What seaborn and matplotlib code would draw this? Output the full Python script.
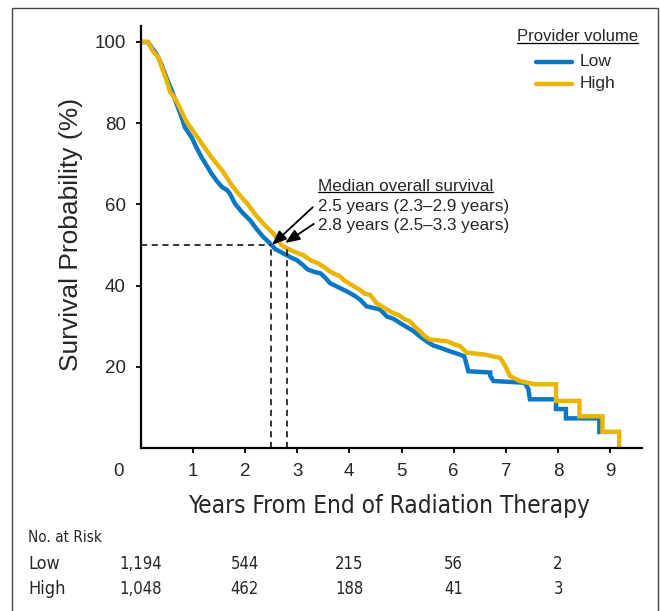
import numpy as np
import pandas as pd
import seaborn as sns
import matplotlib
matplotlib.use("Agg")
import matplotlib.pyplot as plt
from matplotlib import font_manager
from matplotlib.lines import Line2D
from matplotlib.patches import Rectangle
from matplotlib.transforms import blended_transform_factory

# ---------------- data (curve vertices) ----------------
low_time = [0.00, 0.14, 0.22, 0.31, 0.40, 0.47, 0.55, 0.60, 0.70, 0.79, 0.85, 0.98,
            1.08, 1.17, 1.27, 1.36, 1.46, 1.56, 1.66, 1.71, 1.81, 1.95, 2.10, 2.22,
            2.35, 2.45, 2.51, 2.58, 2.67, 2.80, 2.90, 2.99, 3.10, 3.20, 3.30, 3.45,
            3.55, 3.63, 3.82, 3.95, 4.10, 4.21, 4.33, 4.59, 4.72, 4.85, 4.97, 5.10,
            5.23, 5.35, 5.48, 5.60, 5.74, 5.93, 6.12, 6.20, 6.22, 6.28, 6.70, 6.70,
            6.76, 7.33, 7.36, 7.43, 7.46, 7.96, 7.96, 8.15, 8.15, 8.79, 8.79]
low_surv = [100, 100, 98.5, 97.0, 94.5, 92.1, 89.5, 88.0, 84.5, 81.4, 79.0, 76.5,
            73.8, 71.6, 69.5, 67.6, 65.8, 64.3, 63.5, 62.7, 60.2, 58.0, 56.1, 54.0,
            52.0, 50.8, 50.0, 49.0, 48.4, 47.5, 46.8, 46.3, 45.2, 44.0, 43.5, 43.0,
            41.8, 40.6, 39.4, 38.6, 37.5, 36.5, 34.9, 34.1, 32.4, 31.8, 30.8, 29.8,
            28.8, 27.5, 26.3, 25.3, 24.7, 23.8, 23.0, 22.6, 21.8, 18.9, 18.6, 17.8,
            16.5, 16.1, 16.1, 14.5, 12.0, 12.0, 9.6, 9.6, 7.3, 7.3, 3.4]

high_time = [0.00, 0.14, 0.25, 0.33, 0.41, 0.50, 0.57, 0.64, 0.72, 0.80, 0.89, 1.00,
             1.11, 1.24, 1.36, 1.46, 1.56, 1.66, 1.75, 1.90, 2.07, 2.20, 2.35, 2.45,
             2.54, 2.62, 2.70, 2.80, 2.95, 3.12, 3.25, 3.40, 3.50, 3.65, 3.82, 3.89,
             4.00, 4.14, 4.20, 4.30, 4.40, 4.52, 4.72, 4.85, 4.94, 5.05, 5.16, 5.25,
             5.35, 5.45, 5.55, 5.87, 6.02, 6.12, 6.25, 6.60, 6.89, 6.95, 7.02, 7.08,
             7.27, 7.55, 7.96, 7.96, 8.41, 8.41, 8.85, 8.85, 9.17, 9.17]
high_surv = [100, 100, 97.5, 96.5, 93.7, 90.5, 87.6, 86.5, 84.7, 82.5, 80.2, 78.2,
             76.2, 73.8, 71.6, 70.0, 68.4, 66.5, 64.7, 62.3, 59.8, 57.5, 55.3, 54.0,
             52.9, 51.5, 50.0, 49.2, 48.3, 47.5, 46.3, 45.5, 44.7, 43.3, 42.3, 41.4,
             40.5, 39.4, 39.0, 38.0, 37.7, 35.7, 34.1, 33.2, 32.8, 31.8, 31.2, 30.0,
             28.8, 27.5, 26.7, 26.3, 25.5, 25.1, 23.5, 23.0, 22.2, 21.0, 19.4, 17.7,
             16.5, 15.7, 15.7, 11.6, 11.6, 7.8, 7.8, 4.0, 4.0, 0.0]

groups = ["Low", "High"]
colors = ["#0a78c2", "#e9b500"]
medians = [2.5, 2.8]
median_texts = ["2.5 years (2.3\u20132.9 years)", "2.8 years (2.5\u20133.3 years)"]

y_ticks = [20, 40, 60, 80, 100]
x_ticks = [1, 2, 3, 4, 5, 6, 7, 8, 9]
risk_times = [0, 2, 4, 6, 8]
risk_low = ["1,194", "544", "215", "56", "2"]
risk_high = ["1,048", "462", "188", "41", "3"]

df = pd.concat([
    pd.DataFrame({"time": low_time, "surv": low_surv, "group": "Low"}),
    pd.DataFrame({"time": high_time, "surv": high_surv, "group": "High"}),
], ignore_index=True)

# ---------------- style ----------------
sns.set_style("ticks")
names = {f.name for f in font_manager.fontManager.ttflist}
BASE = "Liberation Sans" if "Liberation Sans" in names else "DejaVu Sans"
if "Liberation Sans Narrow" in names:
    NARROW, NSTRETCH = "Liberation Sans Narrow", "normal"
else:
    NARROW, NSTRETCH = "DejaVu Sans", "condensed"
plt.rcParams["font.family"] = [BASE, "DejaVu Sans"]

W, H = 660, 611
fig = plt.figure(figsize=(W / 100, H / 100), dpi=100)


def fx(x):
    return x / W


def fy(y):
    return 1 - y / H


ax_left, ax_right, ax_top, ax_bot = 140.5, 642, 25.5, 448
ax = fig.add_axes([fx(ax_left), fy(ax_bot), (ax_right - ax_left) / W, (ax_bot - ax_top) / H])

sns.lineplot(data=df, x="time", y="surv", hue="group", hue_order=groups,
             palette=dict(zip(groups, colors)), estimator=None, sort=False,
             linewidth=3.2, legend=False, ax=ax)
for ln in ax.get_lines():
    ln.set_solid_joinstyle("miter")
    ln.set_solid_capstyle("butt")

ax.set_xlim(0, (ax_right - ax_left) / 52.2)
ax.set_ylim(0, (ax_bot - ax_top) / 4.06)
ax.set_xticks(x_ticks)
ax.set_yticks(y_ticks)
ax.set_xticklabels([str(v) for v in x_ticks])
ax.set_yticklabels([str(v) for v in y_ticks])
for s in ["top", "right"]:
    ax.spines[s].set_visible(False)
for s in ["left", "bottom"]:
    ax.spines[s].set_linewidth(1.6)
    ax.spines[s].set_color("black")
ax.tick_params(axis="both", direction="out", length=3.6, width=1.3, labelsize=13.5,
               color="black")
ax.tick_params(axis="y", pad=7)
ax.tick_params(axis="x", pad=7)

ax.set_xlabel("Years From End of Radiation Therapy", fontsize=17.5, family=NARROW,
              fontstretch=NSTRETCH)
ax.xaxis.set_label_coords(0.4955, -0.138)
ax.xaxis.label.set_va("center")
ax.set_ylabel("Survival Probability (%)", fontsize=19)
ax.yaxis.set_label_coords(-0.1386, 0.505)
ax.yaxis.label.set_va("center")

# "0" at origin
fig.text(fx(119), fy(471), "0", fontsize=13.5, ha="center", va="center")

# median dashed lines
ax.plot([0, medians[0]], [50, 50], ls=(0, (4, 3)), color="black", lw=1.1)
for m in medians:
    ax.plot([m, m], [0, 50], ls=(0, (4, 3)), color="black", lw=1.1)

# annotation text
t_head = ax.text(3.40, 64.5, "Median overall survival", fontsize=12.3, ha="left",
                 va="center")
ax.text(3.40, 59.4, median_texts[0], fontsize=12.3, ha="left", va="center")
ax.text(3.40, 54.9, median_texts[1], fontsize=12.3, ha="left", va="center")
arrow_kw = dict(arrowstyle="-|>,head_length=0.55,head_width=0.22", mutation_scale=16,
                lw=1.3, color="black", shrinkA=0, shrinkB=0)
ax.annotate("", xy=(2.52, 50.0), xytext=(3.30, 59.3), arrowprops=arrow_kw, zorder=5)
ax.annotate("", xy=(2.77, 50.5), xytext=(3.32, 55.2), arrowprops=arrow_kw, zorder=5)

# legend (manual)
t_leg = fig.text(fx(638), fy(36.5), "Provider volume", fontsize=12, ha="right",
                 va="center")
for i, (g, c) in enumerate(zip(groups, colors)):
    yy = [61.5, 84][i]
    fig.add_artist(Line2D([fx(536), fx(572)], [fy(yy), fy(yy)], color=c, lw=3.2,
                          transform=fig.transFigure))
    fig.text(fx(580), fy(yy - 0.5), g, fontsize=12.5, ha="left", va="center")

# number at risk table
fig.text(fx(28), fy(538), "No. at Risk", fontsize=11, family=NARROW,
         fontstretch=NSTRETCH, ha="left", va="center")
trans = blended_transform_factory(ax.transData, fig.transFigure)
for label, row, yy in [("Low", risk_low, 564), ("High", risk_high, 589)]:
    fig.text(fx(28), fy(yy), label, fontsize=13, family=NARROW,
             fontstretch=NSTRETCH, ha="left", va="center")
    for t, v in zip(risk_times, row):
        ax.text(t, fy(yy), v, transform=trans, fontsize=12, family=NARROW,
                fontstretch=NSTRETCH, ha="center", va="center", clip_on=False)

# figure border
fig.add_artist(Rectangle((fx(12), -0.05), fx(658) - fx(12), fy(8) + 0.05,
                         transform=fig.transFigure, fill=False, lw=1.0,
                         edgecolor="#444444"))

# underlines
fig.canvas.draw()
r = fig.canvas.get_renderer()
inv = fig.transFigure.inverted()
for t in [t_head, t_leg]:
    bb = t.get_window_extent(r)
    (x0, y0) = inv.transform((bb.x0, bb.y0 + 1.5))
    (x1, _) = inv.transform((bb.x1, bb.y0))
    fig.add_artist(Line2D([x0, x1], [y0, y0], color="black", lw=0.9,
                          transform=fig.transFigure))

fig.savefig("out.png", dpi=100)
